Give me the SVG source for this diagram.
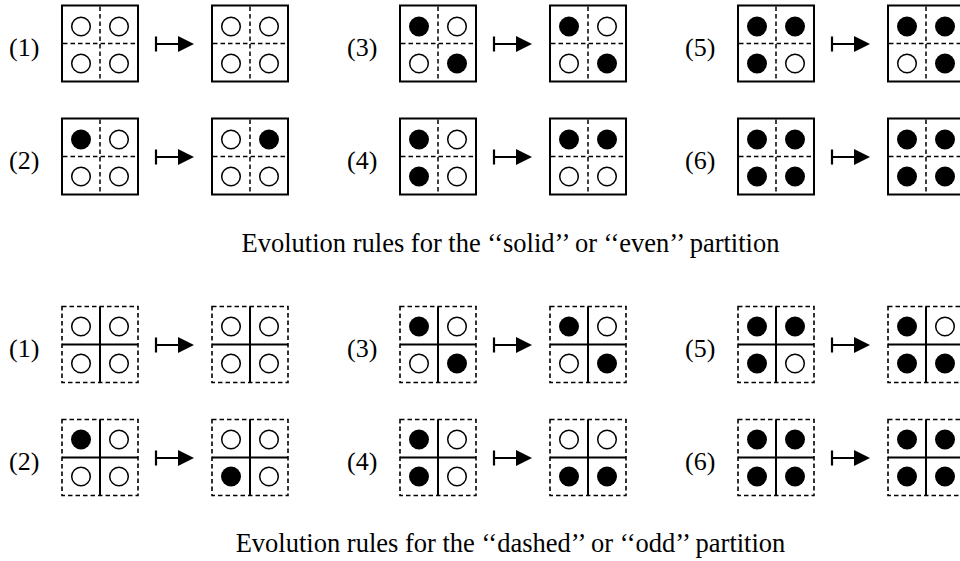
<svg xmlns="http://www.w3.org/2000/svg" width="960" height="561" viewBox="0 0 960 561">
<style>
.t{font-family:"Liberation Serif","Times New Roman",serif;font-size:26px;fill:#000}
.cap{font-size:26.5px}
.bs{fill:#fff;stroke:#000;stroke-width:2}
.bd{fill:#fff;stroke:#000;stroke-width:1.6;stroke-dasharray:4.5 3}
.xd{fill:none;stroke:#000;stroke-width:1.5;stroke-dasharray:4.5 3}
.xs{fill:none;stroke:#000;stroke-width:2}
.ar{fill:none;stroke:#000;stroke-width:2.2}
.ah{fill:#000;stroke:none}
</style>
<defs>
<circle id="co" r="9.3" fill="#fff" stroke="#000" stroke-width="1.5"/>
<circle id="cf" r="10" fill="#000"/>
</defs>
<rect width="960" height="561" fill="#fff"/>

<g id="labels">
<text class="t" x="9" y="55.5">(1)</text>
<text class="t" x="9" y="168.5">(2)</text>
<text class="t" x="347" y="55.5">(3)</text>
<text class="t" x="347" y="168.5">(4)</text>
<text class="t" x="685" y="55.5">(5)</text>
<text class="t" x="685" y="168.5">(6)</text>
<text class="t" x="9" y="356.5">(1)</text>
<text class="t" x="9" y="469.5">(2)</text>
<text class="t" x="347" y="356.5">(3)</text>
<text class="t" x="347" y="469.5">(4)</text>
<text class="t" x="685" y="356.5">(5)</text>
<text class="t" x="685" y="469.5">(6)</text>
<text class="t cap" x="510.5" y="252" text-anchor="middle">Evolution rules for the ‘‘solid’’ or ‘‘even’’ partition</text>
<text class="t cap" x="510.5" y="552" text-anchor="middle">Evolution rules for the ‘‘dashed’’ or ‘‘odd’’ partition</text>
</g>

<!-- upper (solid / even) -->
<g id="u1L" transform="translate(62,5.5)"><rect class="bs" width="76" height="76"/><path class="xd" d="M1 38H75M38 1V75"/><use href="#co" x="19" y="21"/><use href="#co" x="57" y="21"/><use href="#co" x="19" y="58"/><use href="#co" x="57" y="58"/></g>
<g id="u1R" transform="translate(212,5.5)"><rect class="bs" width="76" height="76"/><path class="xd" d="M1 38H75M38 1V75"/><use href="#co" x="19" y="21"/><use href="#co" x="57" y="21"/><use href="#co" x="19" y="58"/><use href="#co" x="57" y="58"/></g>
<g id="u2L" transform="translate(62,118.5)"><rect class="bs" width="76" height="76"/><path class="xd" d="M1 38H75M38 1V75"/><use href="#cf" x="19" y="21"/><use href="#co" x="57" y="21"/><use href="#co" x="19" y="58"/><use href="#co" x="57" y="58"/></g>
<g id="u2R" transform="translate(212,118.5)"><rect class="bs" width="76" height="76"/><path class="xd" d="M1 38H75M38 1V75"/><use href="#co" x="19" y="21"/><use href="#cf" x="57" y="21"/><use href="#co" x="19" y="58"/><use href="#co" x="57" y="58"/></g>
<g id="u3L" transform="translate(400,5.5)"><rect class="bs" width="76" height="76"/><path class="xd" d="M1 38H75M38 1V75"/><use href="#cf" x="19" y="21"/><use href="#co" x="57" y="21"/><use href="#co" x="19" y="58"/><use href="#cf" x="57" y="58"/></g>
<g id="u3R" transform="translate(550,5.5)"><rect class="bs" width="76" height="76"/><path class="xd" d="M1 38H75M38 1V75"/><use href="#cf" x="19" y="21"/><use href="#co" x="57" y="21"/><use href="#co" x="19" y="58"/><use href="#cf" x="57" y="58"/></g>
<g id="u4L" transform="translate(400,118.5)"><rect class="bs" width="76" height="76"/><path class="xd" d="M1 38H75M38 1V75"/><use href="#cf" x="19" y="21"/><use href="#co" x="57" y="21"/><use href="#cf" x="19" y="58"/><use href="#co" x="57" y="58"/></g>
<g id="u4R" transform="translate(550,118.5)"><rect class="bs" width="76" height="76"/><path class="xd" d="M1 38H75M38 1V75"/><use href="#cf" x="19" y="21"/><use href="#cf" x="57" y="21"/><use href="#co" x="19" y="58"/><use href="#co" x="57" y="58"/></g>
<g id="u5L" transform="translate(738,5.5)"><rect class="bs" width="76" height="76"/><path class="xd" d="M1 38H75M38 1V75"/><use href="#cf" x="19" y="21"/><use href="#cf" x="57" y="21"/><use href="#cf" x="19" y="58"/><use href="#co" x="57" y="58"/></g>
<g id="u5R" transform="translate(888,5.5)"><rect class="bs" width="76" height="76"/><path class="xd" d="M1 38H75M38 1V75"/><use href="#cf" x="19" y="21"/><use href="#cf" x="57" y="21"/><use href="#co" x="19" y="58"/><use href="#cf" x="57" y="58"/></g>
<g id="u6L" transform="translate(738,118.5)"><rect class="bs" width="76" height="76"/><path class="xd" d="M1 38H75M38 1V75"/><use href="#cf" x="19" y="21"/><use href="#cf" x="57" y="21"/><use href="#cf" x="19" y="58"/><use href="#cf" x="57" y="58"/></g>
<g id="u6R" transform="translate(888,118.5)"><rect class="bs" width="76" height="76"/><path class="xd" d="M1 38H75M38 1V75"/><use href="#cf" x="19" y="21"/><use href="#cf" x="57" y="21"/><use href="#cf" x="19" y="58"/><use href="#cf" x="57" y="58"/></g>

<!-- lower (dashed / odd) -->
<g id="d1L" transform="translate(62,306.5)"><rect class="bd" width="76" height="76"/><path class="xs" d="M0 38H76M38 0V76"/><use href="#co" x="19" y="20"/><use href="#co" x="57" y="20"/><use href="#co" x="19" y="57"/><use href="#co" x="57" y="57"/></g>
<g id="d1R" transform="translate(212,306.5)"><rect class="bd" width="76" height="76"/><path class="xs" d="M0 38H76M38 0V76"/><use href="#co" x="19" y="20"/><use href="#co" x="57" y="20"/><use href="#co" x="19" y="57"/><use href="#co" x="57" y="57"/></g>
<g id="d2L" transform="translate(62,419.5)"><rect class="bd" width="76" height="76"/><path class="xs" d="M0 38H76M38 0V76"/><use href="#cf" x="19" y="20"/><use href="#co" x="57" y="20"/><use href="#co" x="19" y="57"/><use href="#co" x="57" y="57"/></g>
<g id="d2R" transform="translate(212,419.5)"><rect class="bd" width="76" height="76"/><path class="xs" d="M0 38H76M38 0V76"/><use href="#co" x="19" y="20"/><use href="#co" x="57" y="20"/><use href="#cf" x="19" y="57"/><use href="#co" x="57" y="57"/></g>
<g id="d3L" transform="translate(400,306.5)"><rect class="bd" width="76" height="76"/><path class="xs" d="M0 38H76M38 0V76"/><use href="#cf" x="19" y="20"/><use href="#co" x="57" y="20"/><use href="#co" x="19" y="57"/><use href="#cf" x="57" y="57"/></g>
<g id="d3R" transform="translate(550,306.5)"><rect class="bd" width="76" height="76"/><path class="xs" d="M0 38H76M38 0V76"/><use href="#cf" x="19" y="20"/><use href="#co" x="57" y="20"/><use href="#co" x="19" y="57"/><use href="#cf" x="57" y="57"/></g>
<g id="d4L" transform="translate(400,419.5)"><rect class="bd" width="76" height="76"/><path class="xs" d="M0 38H76M38 0V76"/><use href="#cf" x="19" y="20"/><use href="#co" x="57" y="20"/><use href="#cf" x="19" y="57"/><use href="#co" x="57" y="57"/></g>
<g id="d4R" transform="translate(550,419.5)"><rect class="bd" width="76" height="76"/><path class="xs" d="M0 38H76M38 0V76"/><use href="#co" x="19" y="20"/><use href="#co" x="57" y="20"/><use href="#cf" x="19" y="57"/><use href="#cf" x="57" y="57"/></g>
<g id="d5L" transform="translate(738,306.5)"><rect class="bd" width="76" height="76"/><path class="xs" d="M0 38H76M38 0V76"/><use href="#cf" x="19" y="20"/><use href="#cf" x="57" y="20"/><use href="#cf" x="19" y="57"/><use href="#co" x="57" y="57"/></g>
<g id="d5R" transform="translate(888,306.5)"><rect class="bd" width="76" height="76"/><path class="xs" d="M0 38H76M38 0V76"/><use href="#cf" x="19" y="20"/><use href="#co" x="57" y="20"/><use href="#cf" x="19" y="57"/><use href="#cf" x="57" y="57"/></g>
<g id="d6L" transform="translate(738,419.5)"><rect class="bd" width="76" height="76"/><path class="xs" d="M0 38H76M38 0V76"/><use href="#cf" x="19" y="20"/><use href="#cf" x="57" y="20"/><use href="#cf" x="19" y="57"/><use href="#cf" x="57" y="57"/></g>
<g id="d6R" transform="translate(888,419.5)"><rect class="bd" width="76" height="76"/><path class="xs" d="M0 38H76M38 0V76"/><use href="#cf" x="19" y="20"/><use href="#cf" x="57" y="20"/><use href="#cf" x="19" y="57"/><use href="#cf" x="57" y="57"/></g>

<g id="connectors">
<path class="ar" d="M156 36.5V51.5M156 44H180"/><polygon class="ah" points="178,36 194,44 178,52"/>
<path class="ar" d="M156 149.5V164.5M156 157H180"/><polygon class="ah" points="178,149 194,157 178,165"/>
<path class="ar" d="M494 36.5V51.5M494 44H518"/><polygon class="ah" points="516,36 532,44 516,52"/>
<path class="ar" d="M494 149.5V164.5M494 157H518"/><polygon class="ah" points="516,149 532,157 516,165"/>
<path class="ar" d="M832 36.5V51.5M832 44H856"/><polygon class="ah" points="854,36 870,44 854,52"/>
<path class="ar" d="M832 149.5V164.5M832 157H856"/><polygon class="ah" points="854,149 870,157 854,165"/>
<path class="ar" d="M156 337.5V352.5M156 345H180"/><polygon class="ah" points="178,337 194,345 178,353"/>
<path class="ar" d="M156 450.5V465.5M156 458H180"/><polygon class="ah" points="178,450 194,458 178,466"/>
<path class="ar" d="M494 337.5V352.5M494 345H518"/><polygon class="ah" points="516,337 532,345 516,353"/>
<path class="ar" d="M494 450.5V465.5M494 458H518"/><polygon class="ah" points="516,450 532,458 516,466"/>
<path class="ar" d="M832 337.5V352.5M832 345H856"/><polygon class="ah" points="854,337 870,345 854,353"/>
<path class="ar" d="M832 450.5V465.5M832 458H856"/><polygon class="ah" points="854,450 870,458 854,466"/>
</g>
</svg>
